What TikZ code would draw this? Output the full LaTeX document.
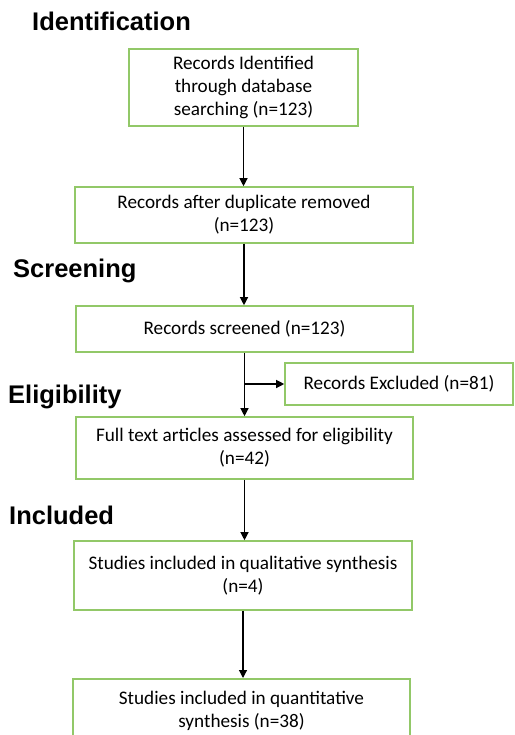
\documentclass[tikz,border=0pt]{standalone}
\usepackage{fontspec}
\setmainfont{Carlito}
\newfontfamily\headfont{Liberation Sans}
\usetikzlibrary{arrows.meta}
\definecolor{boxgreen}{RGB}{146,200,104}
\tikzset{
  box/.style={draw=boxgreen, line width=1.6pt, align=center, inner sep=2pt,
    font=\fontsize{19.2}{23}\selectfont, text=black},
  head/.style={anchor=base west, inner sep=0pt, font=\headfont\bfseries\fontsize{25.5}{28}\selectfont},
  arr/.style={line width=1.2pt, -{Triangle[length=8pt,width=8pt]}}
}
\begin{document}
\begin{tikzpicture}[x=1pt,y=1pt]
\useasboundingbox (0,0) rectangle (514,-735);
\clip (0,0) rectangle (514,-735);
\node[head] (h1) at (32,-31) {Identification};
\node[head] (h2) at (13,-277) {Screening};
\node[head] (h3) at (8,-403) {Eligibility};
\node[head] (h4) at (9,-524) {Included};

\node[box, minimum width=229pt, minimum height=77pt] (b1) at (243.5,-87.5) {Records Identified\\through database\\searching (n=123)};
\node[box, minimum width=338pt, minimum height=56pt] (b2) at (244,-215) {Records after duplicate removed\\(n=123)};
\node[box, minimum width=337pt, minimum height=46pt] (b3) at (244.5,-329) {Records screened (n=123)};
\node[box, minimum width=228pt, minimum height=42pt] (ex) at (399,-384) {Records Excluded (n=81)};
\node[box, minimum width=337pt, minimum height=62pt] (b4) at (244.5,-448) {Full text articles assessed for eligibility\\(n=42)};
\node[box, minimum width=338pt, minimum height=69pt] (b5) at (243,-575.5) {Studies included in qualitative synthesis\\(n=4)};
\node[box, minimum width=337pt, minimum height=64pt, anchor=north] (b6) at (241.5,-678) {Studies included in quantitative\\synthesis (n=38)};

\draw[arr] (b1.south) -- (b1.south |- b2.north);
\draw[arr] (b2.south) -- (b2.south |- b3.north);
\draw[arr] (b3.south) -- (b3.south |- b4.north);
\coordinate (br) at (b3.south |- ex.west);
\draw[arr] (br) -- (ex.west);
\draw[arr] (b4.south) -- (b4.south |- b5.north);
\draw[arr] (b5.south) -- (b5.south |- b6.north);
\end{tikzpicture}
\end{document}
